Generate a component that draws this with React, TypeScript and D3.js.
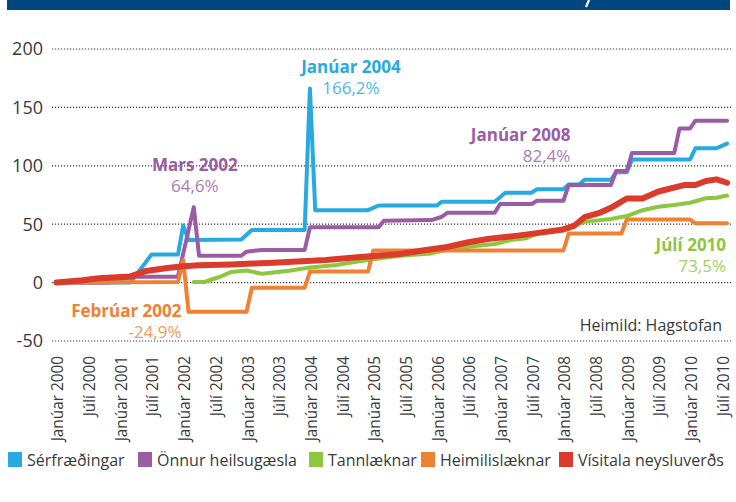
import React from "react";
import * as d3 from "d3";

const W = 736;
const H = 502;

const yTicks = [-50, 0, 50, 100, 150, 200];
const xTickMonths = [0, 6, 12, 18, 24, 30, 36, 42, 48, 54, 60, 66, 72, 78, 84, 90, 96, 102, 108, 114, 120, 126];
const xTickLabels = [
  "Janúar 2000", "Júlí 2000", "Janúar 2001", "Júlí 2001", "Janúar 2002", "Júlí 2002",
  "Janúar 2003", "Júlí 2003", "Janúar 2004", "Júlí 2004", "Janúar 2005", "Júlí 2005",
  "Janúar 2006", "Júlí 2006", "Janúar 2007", "Júlí 2007", "Janúar 2008", "Júlí 2008",
  "Janúar 2009", "Júlí 2009", "Janúar 2010", "Júlí 2010",
];

// [month index since Jan 2000, % change]
const serfraedingar: [number, number][] = [
  [0, 0], [14, 0], [18, 24], [23, 24], [24, 49], [25, 36.5], [35, 37], [37, 45], [47, 45],
  [48, 166.2], [49, 62], [59, 62], [61, 66], [72, 66], [73, 69.3], [83, 69.3], [85, 77],
  [90, 77], [91, 80], [96, 80], [97, 84], [99, 84], [100, 88], [105, 88], [106, 94.5],
  [108, 94.5], [109, 105.5], [120, 105.5], [121, 115], [125, 115], [126, 117], [127, 119],
];
const onnur: [number, number][] = [
  [0, 0], [10, 0], [12, 3], [15, 5], [23, 5], [26, 64.6], [27, 23], [35, 23], [36, 26.5],
  [39, 28], [47, 28], [48, 47.3], [61, 47.3], [62, 53], [71, 53.5], [73, 56.4], [74, 59.8],
  [83, 59.8], [84, 67.3], [90, 67.3], [91, 70], [96, 70], [97, 83.5], [105, 83.5],
  [106, 95.5], [108, 95.5], [109, 111], [117, 111], [118, 132], [120, 132], [121, 138.6],
  [127, 138.6],
];
const tannlaeknar: [number, number][] = [
  [26, 0.5], [28, 0.5], [31, 5], [33, 9], [36, 10.3], [39, 7.5], [44, 10.2], [48, 13],
  [53, 15], [57, 18], [60, 20], [65, 23], [71, 25], [74, 28], [78, 30.7], [83, 33],
  [86, 36.5], [89, 38], [92, 43.6], [95, 45], [98, 49], [100, 52], [105, 54.5], [108, 57],
  [111, 62], [114, 65], [117, 66.4], [120, 68.4], [123, 72.2], [125, 72.7], [127, 74.5],
];
const heimilislaeknar: [number, number][] = [
  [0, 0], [23, 0.5], [24, 19.3], [25, -24.9], [36, -24.9], [37, -4.4], [47, -4.4],
  [48, 9.4], [59, 9.4], [60, 27.5], [96, 27.5], [97, 42], [107, 42], [108, 54], [120, 54],
  [121, 50.8], [127, 50.8],
];
const visitala: [number, number][] = [
  [0, 0], [5, 2], [8, 3.8], [14, 5.3], [17, 10], [21, 12.5], [24, 14], [27, 14.8],
  [33, 15.5], [37, 16.3], [41, 17], [51, 19.3], [57, 21.7], [65, 24.5], [70, 27.9],
  [74, 30.5], [78, 34.5], [82, 37.5], [87, 40], [92, 43], [96, 45.5], [98, 48.5],
  [100, 56], [103, 60], [105, 64], [108, 72], [111, 72], [114, 78], [119, 83.6],
  [121, 83.6], [123, 87], [125, 88.4], [127, 85.5],
];

const seriesNames = ["Sérfræðingar", "Önnur heilsugæsla", "Tannlæknar", "Heimilislæknar", "Vísitala neysluverðs"];
const seriesData = [serfraedingar, onnur, tannlaeknar, heimilislaeknar, visitala];
const colors = ["#27aae1", "#9b5ba5", "#8dc63f", "#ef8133", "#dc3a2a"];
const lightColors = ["#4db8e6", "#ac7ab5", "#a2cf62", "#f19a5c", "#e3614f"];
const widths = [4, 4, 4, 4, 6];

const legendX = [8, 138, 309, 421, 559];

const FONT = "'Open Sans', sans-serif";

export default function App() {
  const x = d3.scaleLinear().domain([0, 127]).range([56.5, 56.5 + 127 * 5.28]);
  const y = d3.scaleLinear().domain([-50, 200]).range([341, 49]);
  const line = d3
    .line<[number, number]>()
    .x((d) => x(d[0]))
    .y((d) => y(d[1]));

  const annotations = [
    { s: 0, title: "Janúar 2004", val: "166,2%", x: x(48) + 41, y: y(166.2) - 15, anchor: "middle" },
    { s: 1, title: "Mars 2002", val: "64,6%", x: x(26) + 1, y: y(64.6) - 36, anchor: "middle" },
    { s: 3, title: "Febrúar 2002", val: "-24,9%", x: x(25) - 7, y: y(-24.9) + 5, anchor: "end" },
    { s: 1, title: "Janúar 2008", val: "82,4%", x: x(96) + 7, y: y(82.4) - 45, anchor: "end" },
    { s: 2, title: "Júlí 2010", val: "73,5%", x: x(127) - 1, y: y(73.5) + 54, anchor: "end" },
  ];

  return (
    <svg
      width={W}
      height={H}
      style={{ position: "absolute", left: 0, top: 0, background: "#fff" }}
      fontFamily={FONT}
    >
      <rect x={7} y={0} width={723} height={10} fill="#00477f" />
      <path d="M589,0 L586,7" stroke="#fff" strokeWidth={2.2} />

      {yTicks.map((t) => (
        <g key={t}>
          <line
            x1={52}
            x2={731}
            y1={y(t)}
            y2={y(t)}
            stroke="#3a3a3a"
            strokeWidth={1.2}
            strokeDasharray="1.2,1.8"
          />
          <text x={43} y={y(t)} dy="0.36em" textAnchor="end" fontSize={18} fill="#3a3a3a">
            {t}
          </text>
        </g>
      ))}

      {xTickMonths.map((m, i) => (
        <text
          key={m}
          transform={`translate(${x(m) + 1},356) rotate(-90) scale(0.93,1)`}
          dy="0.36em"
          textAnchor="end"
          fontSize={16.5}
          fill="#3a3a3a"
        >
          {xTickLabels[i]}
        </text>
      ))}

      {seriesData.map((d, i) => (
        <path
          key={i}
          d={line(d) || ""}
          fill="none"
          stroke={colors[i]}
          strokeWidth={widths[i]}
          strokeLinejoin="round"
          strokeLinecap="round"
        />
      ))}

      {annotations.map((a, i) => (
        <g key={i}>
          <text x={a.x} y={a.y} textAnchor={a.anchor} fontWeight="bold" fontSize={17} fill={colors[a.s]}>
            {a.title}
          </text>
          <text x={a.x} y={a.y + 21} textAnchor={a.anchor} fontSize={17} fill={lightColors[a.s]}>
            {a.val}
          </text>
        </g>
      ))}

      <text x={722} y={331} textAnchor="end" fontSize={16} fill="#3a3a3a">
        Heimild: Hagstofan
      </text>

      {seriesNames.map((n, i) => (
        <g key={n}>
          <rect x={legendX[i]} y={452} width={14} height={15} fill={colors[i]} />
          <text x={legendX[i] + 19} y={466} fontSize={16} fill="#3a3a3a">
            {n}
          </text>
        </g>
      ))}
    </svg>
  );
}
